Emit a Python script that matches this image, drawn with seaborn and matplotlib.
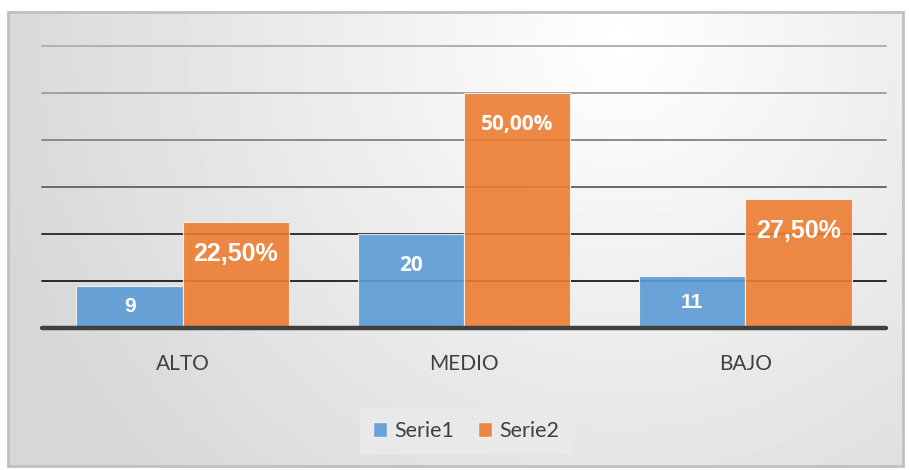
import numpy as np
import pandas as pd
import matplotlib.pyplot as plt
import seaborn as sns
from matplotlib.patches import Rectangle, Patch

# datos del grafico
categorias = ["ALTO", "MEDIO", "BAJO"]
serie1 = [9, 20, 11]
serie2 = [22.5, 50.0, 27.5]
etiquetas1 = ["9", "20", "11"]
etiquetas2 = ["22,50%", "50,00%", "27,50%"]
series = ["Serie1", "Serie2"]
colores = ["#5B9BD5", "#ED7D31"]

df = pd.DataFrame({
    "categoria": categorias * 2,
    "serie": [series[0]] * 3 + [series[1]] * 3,
    "valor": serie1 + serie2,
})

sns.set_theme(style="white")
plt.rcParams["font.family"] = ["Lato", "DejaVu Sans"]

W, H = 909, 470
fig = plt.figure(figsize=(W / 100, H / 100), dpi=100)

# fondo con degradado, como el de Excel
bg = fig.add_axes([0, 0, 1, 1], zorder=-10)
xx, yy = np.meshgrid(np.arange(W), np.arange(H))
d = np.hypot(xx - 620, yy - 40)
shade = np.clip(1.0 - d / 700 * 0.17, 0.84, 1.0)
outside = (xx < 8) | (xx > 903) | (yy < 12) | (yy > 466)
shade[outside] = 1.0
bg.imshow(shade, cmap="gray", vmin=0, vmax=1, extent=[0, W, H, 0], aspect="auto")
bg.add_patch(Rectangle((8, 12), 895, 454, fill=False, edgecolor="#c0c0c0", lw=2))
bg.set_xlim(0, W)
bg.set_ylim(H, 0)
bg.axis("off")

ax = fig.add_axes([42 / W, 142 / H, 844 / W, 282 / H])
ax.patch.set_alpha(0)

sns.barplot(data=df, x="categoria", y="valor", hue="serie", hue_order=series,
            palette=colores, width=0.755, saturation=1, alpha=0.9,
            edgecolor="#f4f4f4", linewidth=0.8, ax=ax, zorder=3, legend=False)

# lineas de division (mas oscuras abajo)
grid_colors = ["#2a2a2a", "#333333", "#6a6a6a", "#8a8a8a", "#a0a0a0", "#b0b0b0"]
for y, c in zip([10, 20, 30, 40, 50, 60], grid_colors):
    ax.axhline(y, color=c, lw=1.4, zorder=1, clip_on=False)
ax.axhline(0, color="#404040", lw=3.2, zorder=4, clip_on=False)

ax.set_ylim(0, 60)
ax.set_xlim(-0.5, 2.5)
ax.set_yticks([])
ax.set_xlabel("")
ax.set_ylabel("")
sns.despine(ax=ax, left=True, bottom=True)
ax.tick_params(axis="x", length=0, pad=19, labelsize=15, labelcolor="#404040")

# etiquetas de datos
for cont, labels in zip(ax.containers, [etiquetas1, etiquetas2]):
    for i, (bar, lab) in enumerate(zip(cont, labels)):
        top = bar.get_height()
        y = max(top - 6.8, top / 2)
        if categorias[i] == "MEDIO":
            fam, size = ["Open Sans", "DejaVu Sans"], 15
        else:
            fam = ["Liberation Sans", "DejaVu Sans"]
            size = 15 if cont is ax.containers[0] else 18
        ax.text(bar.get_x() + bar.get_width() / 2, y, lab, ha="center", va="center",
                color="white", fontweight="bold", fontsize=size, family=fam, zorder=5)

handles = [Patch(facecolor=c, edgecolor="#f4f4f4", alpha=0.9, label=s) for s, c in zip(series, colores)]
leg = fig.legend(handles=handles, loc="center", bbox_to_anchor=(466 / W, 1 - 431 / H), ncol=2,
                 frameon=True, facecolor="#e9e9e9", edgecolor="none", fontsize=15.5,
                 handlelength=0.65, handleheight=0.65, columnspacing=1.1, handletextpad=0.35,
                 borderpad=0.6, framealpha=1, fancybox=False)
for t in leg.get_texts():
    t.set_color("#404040")

fig.savefig("out.png", dpi=100)
